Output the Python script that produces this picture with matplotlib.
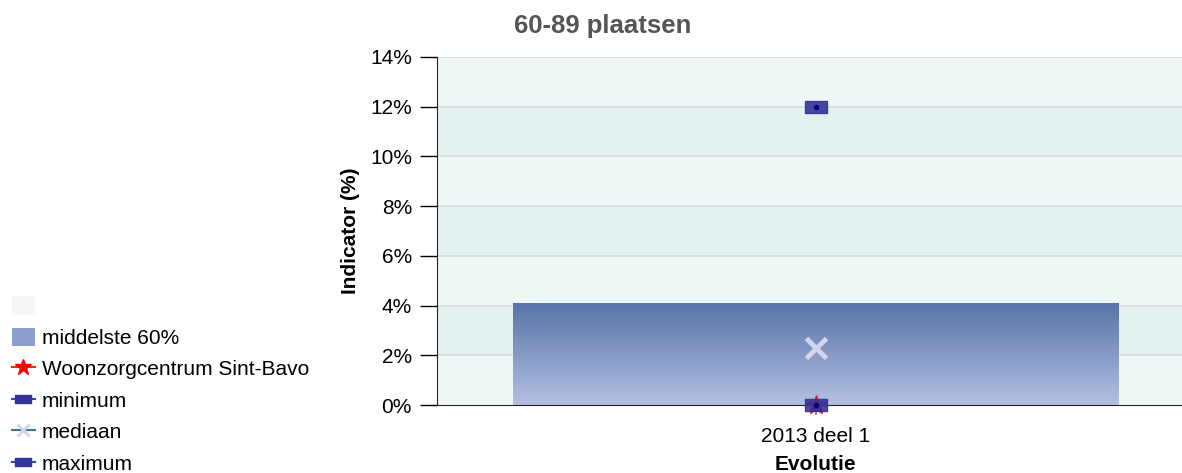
import numpy as np
import matplotlib.pyplot as plt
from matplotlib.path import Path
from matplotlib.lines import Line2D
from matplotlib.patches import Patch
from matplotlib.colors import LinearSegmentedColormap

plt.rcParams['font.family'] = ['Liberation Sans', 'DejaVu Sans']

# data
categories = ['2013 deel 1']
p20 = [0.0]
p80 = [4.1]
minimum = [0.0]
median = [2.3]
maximum = [12.0]
sint_bavo = [0.0]

fig = plt.figure(figsize=(11.82, 4.73), dpi=100)
ax = fig.add_axes([437 / 1182, 1 - 405 / 473, (1194 - 437) / 1182, (405 - 57) / 473])

x = np.arange(len(categories))

# alternating background bands
for i, lo in enumerate(range(0, 14, 2)):
    ax.axhspan(lo, lo + 2, color='#f0f8f7' if i % 2 == 0 else '#e3f2f1', zorder=0, lw=0)
for yv in range(2, 15, 2):
    ax.axhline(yv, color='#d8dcdc', lw=1.2, zorder=0.5)

# middle 60% bar with vertical gradient
bars = ax.bar(x, np.array(p80) - np.array(p20), bottom=p20, width=0.8,
              color='none', zorder=2)
grad = np.linspace(0, 1, 256).reshape(-1, 1)
cmap = LinearSegmentedColormap.from_list('g', ['#b4c0e2', '#5874a8'])
for b in bars:
    bx, by = b.get_x(), b.get_y()
    im = ax.imshow(grad, cmap=cmap, origin='lower', aspect='auto',
                   extent=[bx, bx + b.get_width(), by, by + b.get_height()], zorder=2)
    im.set_clip_path(b)

rect = Path([(-1.0, -0.5), (1.0, -0.5), (1.0, 0.5), (-1.0, 0.5), (-1.0, -0.5)],
            [Path.MOVETO, Path.LINETO, Path.LINETO, Path.LINETO, Path.CLOSEPOLY])

ax.plot(x, median, ls='none', marker='x', ms=15, mew=3.5, color='#d2d6ec', zorder=4)
ax.plot(x, sint_bavo, ls='none', marker='*', ms=15, color='#ff1010', zorder=4, clip_on=False)
for vals in (minimum, maximum):
    ax.plot(x, vals, ls='none', marker=rect, ms=16, color='#333399', alpha=0.9,
            zorder=5, clip_on=False)
    ax.plot(x, vals, ls='none', marker='o', ms=3, color='#000080', zorder=6, clip_on=False)

ax.set_xlim(-0.5, 0.5)
ax.set_ylim(0, 14)
ax.set_yticks(range(0, 15, 2))
ax.set_yticklabels([f'{v}%' for v in range(0, 15, 2)], fontsize=15)
ax.set_xticks(x)
ax.set_xticklabels(categories, fontsize=15)
ax.tick_params(axis='y', length=12, width=1, pad=6)
ax.tick_params(axis='x', length=7, width=1.2, color='#777777', pad=9)
for s in ['top', 'right']:
    ax.spines[s].set_visible(False)
ax.spines['left'].set_color('#222222')
ax.spines['bottom'].set_color('#222222')
ax.spines['bottom'].set_zorder(3)
ax.set_ylabel('Indicator (%)', fontsize=15, fontweight='bold', labelpad=7)
ax.set_xlabel('Evolutie', fontsize=15, fontweight='bold', labelpad=6)

fig.text(603 / 1182, 1 - 26 / 473, '60-89 plaatsen', ha='center', va='center',
         fontsize=18.5, fontweight='bold', color='#555555')

handles = [
    Patch(facecolor='#f6f6f6', edgecolor='none'),
    Patch(facecolor='#8a9fce', edgecolor='none'),
    Line2D([], [], color='#ff2a00', marker='*', ms=12, mfc='#ff0000', mec='#ff0000'),
    Line2D([], [], color='#2850b0', marker=rect, ms=11, mfc='#333399', mec='#333399'),
    Line2D([], [], color='#3a7a88', marker='x', ms=9, mew=2, mec='#d2d6ec'),
    Line2D([], [], color='#2850b0', marker=rect, ms=11, mfc='#333399', mec='#333399'),
]
labels = ['', 'middelste 60%', 'Woonzorgcentrum Sint-Bavo', 'minimum', 'mediaan', 'maximum']
fig.legend(handles, labels, loc='upper left', bbox_to_anchor=(0.01, 1 - 296 / 473),
           frameon=False, fontsize=15, handlelength=1.1, handleheight=1.0,
           handletextpad=0.35, labelspacing=0.53, borderaxespad=0, borderpad=0)

fig.savefig('out.png', dpi=100)
